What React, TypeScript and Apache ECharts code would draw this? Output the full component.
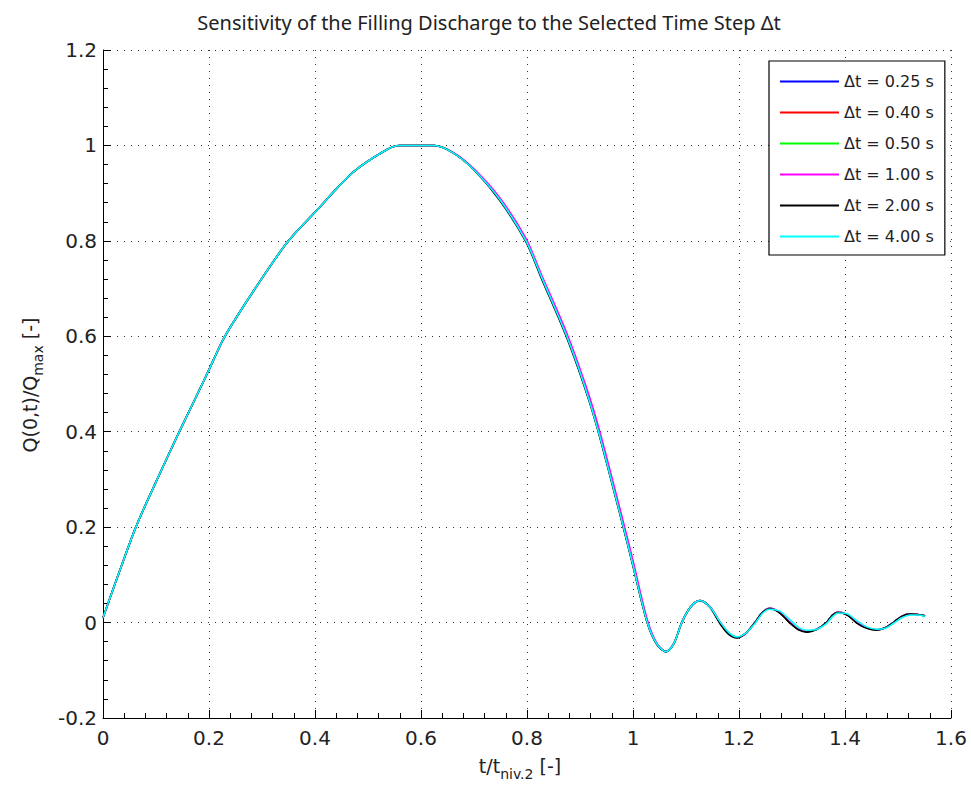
import React, { useEffect, useRef } from "react";
import * as echarts from "echarts";

const titleText = "Sensitivity of the Filling Discharge to the Selected Time Step \u0394t";
const seriesNames = ["\u0394t = 0.25 s", "\u0394t = 0.40 s", "\u0394t = 0.50 s", "\u0394t = 1.00 s", "\u0394t = 2.00 s", "\u0394t = 4.00 s"];
const seriesColors = ["#0000ff", "#ff0000", "#00ff00", "#ff00ff", "#000000", "#00ffff"];

const tRatio = [
  0, 0.031, 0.062, 0.1, 0.144, 0.183, 0.2, 0.23, 0.296, 0.35, 0.4, 0.472, 0.535, 0.56, 0.625, 0.66, 0.699,
  0.749, 0.798, 0.827, 0.875, 0.909, 0.935, 0.982, 1.0, 1.027,
  1.045, 1.062, 1.077, 1.092,
  1.109, 1.126, 1.145, 1.164,
  1.18, 1.196, 1.213, 1.23,
  1.244, 1.258, 1.277, 1.296,
  1.312, 1.328, 1.347, 1.365,
  1.376, 1.387, 1.405, 1.422,
  1.441, 1.46, 1.476, 1.491,
  1.507, 1.523, 1.537, 1.551,
];

const qDt025 = [
  0.01, 0.107, 0.2, 0.295, 0.4, 0.49, 0.53, 0.6, 0.715, 0.8, 0.86, 0.944, 0.991, 1.0, 1.0, 0.985, 0.95,
  0.886, 0.8, 0.725, 0.6, 0.495, 0.4, 0.2, 0.12, 0.0,
  -0.045, -0.061, -0.044, 0.0,
  0.033, 0.046, 0.033, 0.0,
  -0.022, -0.031, -0.022, 0.0,
  0.021, 0.03, 0.021, 0.0,
  -0.014, -0.019, -0.014, 0.0,
  0.015, 0.022, 0.016, 0.0,
  -0.011, -0.015, -0.011, 0.0,
  0.013, 0.018, 0.017, 0.014,
];
const qDt040 = [
  0.01, 0.107, 0.2, 0.295, 0.4, 0.49, 0.53, 0.6, 0.715, 0.8, 0.86, 0.944, 0.991, 1.0, 1.0, 0.985, 0.95,
  0.887, 0.8, 0.726, 0.602, 0.497, 0.402, 0.202, 0.122, 0.001,
  -0.045, -0.061, -0.044, 0.0,
  0.033, 0.046, 0.033, 0.0,
  -0.022, -0.031, -0.022, 0.0,
  0.021, 0.03, 0.021, 0.0,
  -0.014, -0.019, -0.014, 0.0,
  0.015, 0.022, 0.016, 0.0,
  -0.011, -0.015, -0.011, 0.0,
  0.013, 0.018, 0.017, 0.014,
];
const qDt050 = [
  0.01, 0.107, 0.2, 0.295, 0.4, 0.49, 0.53, 0.6, 0.715, 0.8, 0.86, 0.944, 0.991, 1.0, 1.0, 0.985, 0.95,
  0.886, 0.8, 0.725, 0.6, 0.495, 0.4, 0.2, 0.12, 0.0,
  -0.045, -0.061, -0.044, 0.0,
  0.033, 0.046, 0.033, 0.0,
  -0.022, -0.031, -0.022, 0.0,
  0.021, 0.03, 0.021, 0.0,
  -0.014, -0.019, -0.014, 0.0,
  0.015, 0.022, 0.016, 0.0,
  -0.011, -0.015, -0.011, 0.0,
  0.013, 0.018, 0.017, 0.014,
];
const qDt100 = [
  0.01, 0.107, 0.2, 0.295, 0.4, 0.49, 0.53, 0.6, 0.715, 0.8, 0.86, 0.944, 0.991, 1.0, 1.0, 0.986, 0.952,
  0.89, 0.805, 0.73, 0.607, 0.503, 0.41, 0.21, 0.13, 0.006,
  -0.043, -0.06, -0.044, 0.0,
  0.033, 0.046, 0.034, 0.002,
  -0.021, -0.031, -0.023, 0.0,
  0.021, 0.03, 0.022, 0.001,
  -0.014, -0.019, -0.014, 0.0,
  0.015, 0.022, 0.016, 0.001,
  -0.011, -0.015, -0.011, 0.0,
  0.013, 0.018, 0.017, 0.014,
];
const qDt200 = [
  0.01, 0.107, 0.2, 0.295, 0.4, 0.49, 0.53, 0.6, 0.715, 0.8, 0.86, 0.944, 0.991, 1.0, 1.0, 0.985, 0.95,
  0.884, 0.798, 0.722, 0.597, 0.492, 0.398, 0.198, 0.118, -0.001,
  -0.046, -0.061, -0.044, 0.0,
  0.033, 0.046, 0.032, -0.002,
  -0.024, -0.032, -0.022, 0.0,
  0.021, 0.029, 0.02, -0.001,
  -0.015, -0.02, -0.014, 0.0,
  0.015, 0.021, 0.015, -0.001,
  -0.012, -0.016, -0.011, 0.0,
  0.013, 0.018, 0.017, 0.014,
];
const qDt400 = [
  0.01, 0.107, 0.2, 0.295, 0.4, 0.49, 0.53, 0.6, 0.715, 0.8, 0.86, 0.944, 0.991, 1.0, 1.0, 0.985, 0.95,
  0.886, 0.8, 0.725, 0.6, 0.495, 0.4, 0.2, 0.12, 0.0,
  -0.045, -0.061, -0.044, 0.0,
  0.033, 0.046, 0.033, 0.002,
  -0.02, -0.03, -0.022, -0.002,
  0.019, 0.028, 0.024, 0.006,
  -0.01, -0.016, -0.014, -0.002,
  0.012, 0.02, 0.018, 0.004,
  -0.009, -0.014, -0.012, -0.002,
  0.01, 0.016, 0.016, 0.013,
];

const qSeries = [qDt025, qDt040, qDt050, qDt100, qDt200, qDt400];

export default function App() {
  const ref = useRef<HTMLDivElement>(null);
  useEffect(() => {
    if (!ref.current) return;
    const chart = echarts.init(ref.current, null, { renderer: "svg" });
    const tickFont = "DejaVu Sans";
    const axisCommon = {
      type: "value",
      interval: 0.2,
      axisLine: { show: true, onZero: false, lineStyle: { color: "#000", width: 1 } },
      axisTick: { show: true, inside: true, length: 8, lineStyle: { color: "#000", width: 1 } },
      minorTick: { show: true, splitNumber: 5, length: 5, lineStyle: { color: "#000", width: 1 } },
      axisLabel: { fontSize: 20, fontFamily: tickFont, color: "#222" },
      splitLine: { show: true, lineStyle: { color: "#333", width: 1, type: [1, 6] } },
    };
    chart.setOption({
      animation: false,
      backgroundColor: "#fff",
      grid: { left: 103, right: 20, top: 50, bottom: 69, containLabel: false },
      xAxis: { ...axisCommon, min: 0, max: 1.6, axisLabel: { ...axisCommon.axisLabel, margin: 10 } },
      yAxis: { ...axisCommon, min: -0.2, max: 1.2, axisLabel: { ...axisCommon.axisLabel, margin: 6 } },
      legend: {
        orient: "vertical",
        left: 769,
        top: 61,
        icon: "rect",
        itemWidth: 59,
        itemHeight: 2,
        itemGap: 12,
        padding: [11, 11, 9, 11],
        backgroundColor: "#fff",
        borderColor: "#000",
        borderWidth: 1.2,
        borderRadius: 0,
        textStyle: { fontFamily: tickFont, fontSize: 16, color: "#222", lineHeight: 19 },
        data: seriesNames,
      },
      graphic: [
        {
          type: "text",
          x: 489,
          y: 22,
          style: {
            text: titleText,
            font: '20px "Noto Sans"',
            fill: "#222",
            textAlign: "center",
            textVerticalAlign: "middle",
          },
        },
        {
          type: "text",
          x: 520,
          y: 766,
          style: {
            text: "{n|t/t}{s|niv.2}{n| [-]}",
            textAlign: "center",
            textVerticalAlign: "middle",
            fill: "#222",
            rich: {
              n: { fontSize: 19, fontFamily: tickFont, fill: "#222" },
              s: { fontSize: 14, fontFamily: tickFont, fill: "#222", padding: [16, 0, 0, 0] },
            },
          },
        },
        {
          type: "text",
          x: 30,
          y: 385,
          rotation: Math.PI / 2,
          style: {
            text: "{n|Q(0,t)/Q}{s|max}{n| [-]}",
            textAlign: "center",
            textVerticalAlign: "middle",
            fill: "#222",
            rich: {
              n: { fontSize: 19, fontFamily: tickFont, fill: "#222" },
              s: { fontSize: 14, fontFamily: tickFont, fill: "#222", padding: [16, 0, 0, 0] },
            },
          },
        },
      ],
      series: seriesNames.map((name, i) => ({
        name,
        type: "line",
        symbol: "none",
        smooth: 0.3,
        color: seriesColors[i],
        lineStyle: { color: seriesColors[i], width: 1.6 },
        data: tRatio.map((t, j) => [t, qSeries[i][j]]),
        z: 2 + i,
      })),
    });
    return () => chart.dispose();
  }, []);
  return <div ref={ref} style={{ position: "fixed", left: 0, top: 0, width: 971, height: 787 }} />;
}
